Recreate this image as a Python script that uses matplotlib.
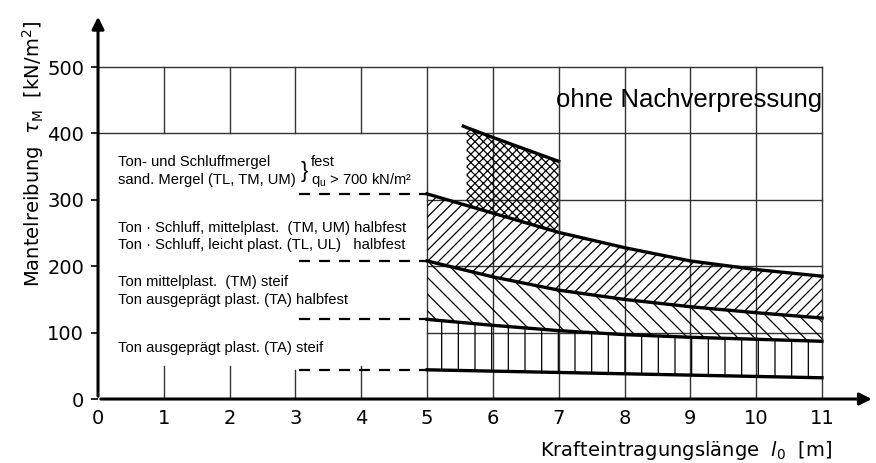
import matplotlib
matplotlib.use('Agg')
import matplotlib.pyplot as plt

plt.rcParams['hatch.linewidth'] = 0.9
plt.rcParams['font.family'] = ['Liberation Sans', 'DejaVu Sans']

# Krafteintragungslaenge l0 [m]
x_len = [5, 6, 7, 8, 9, 10, 11]
# Grenzkurven Mantelreibung [kN/m2]
tau_steif = [44, 42, 40, 38, 36, 34, 32]
tau_halbfest_ta = [120, 111, 103, 97, 93, 90, 87]
tau_halbfest_tl = [208, 184, 164, 150, 139, 130, 122]
tau_fest = [309, 280, 251, 228, 208, 195, 185]
# Bereich Ton-/Schluffmergel fest
x_mergel = [5.6, 6.0, 6.5, 7.0]
tau_mergel_top = [409, 394, 376, 358]
tau_mergel_bot = [292, 280, 265, 251]

x_ticks = [0, 1, 2, 3, 4, 5, 6, 7, 8, 9, 10, 11]
y_ticks = [0, 100, 200, 300, 400, 500]

labels = [
    (0.30, 357, 'Ton- und Schluffmergel'),
    (0.30, 330, 'sand. Mergel (TL, TM, UM)'),
    (0.30, 257, 'Ton · Schluff, mittelplast.  (TM, UM) halbfest'),
    (0.30, 232, 'Ton · Schluff, leicht plast. (TL, UL)   halbfest'),
    (0.30, 176, 'Ton mittelplast.  (TM) steif'),
    (0.30, 149, 'Ton ausgeprägt plast. (TA) halbfest'),
    (0.30, 77, 'Ton ausgeprägt plast. (TA) steif'),
]


def main():
    fig = plt.figure(figsize=(8.76, 4.63), dpi=100)
    ax = fig.add_axes([0.1119, 0.1382, 0.888, 0.8445])
    ax.set_xlim(0, 11.82)
    ax.set_ylim(0, 589)
    for s in ax.spines.values():
        s.set_visible(False)

    grid = dict(color='#333333', lw=1.0, zorder=1)
    # Raster oben (400 / 500) ueber die ganze Breite
    for yv in [400, 500]:
        ax.plot([0, 11], [yv, yv], **grid)
    for xv in range(1, 5):
        ax.plot([xv, xv], [400, 500], **grid)
    # Raster rechts
    for yv in [100, 200, 300]:
        ax.plot([5, 11], [yv, yv], **grid)
    for xv in range(5, 12):
        ax.plot([xv, xv], [0, 500], **grid)
    # kleine Striche unten links
    for xv in [1, 2, 4]:
        ax.plot([xv, xv], [0, 50], **grid)
    ax.plot([3, 3], [0, tau_steif[0]], **grid)

    # gestrichelte Verbindungen zu den Texten
    for yv in [tau_steif[0], tau_halbfest_ta[0], tau_halbfest_tl[0], tau_fest[0]]:
        ax.plot([3.05, 5], [yv, yv], color='k', lw=1.6, ls=(0, (5, 4)), zorder=2)

    # schraffierte Bereiche
    ax.fill_between(x_len, tau_steif, tau_halbfest_ta, facecolor='none',
                    edgecolor='k', hatch='|', lw=0, zorder=2)
    ax.fill_between(x_len, tau_halbfest_ta, tau_halbfest_tl, facecolor='none',
                    edgecolor='k', hatch='\\\\', lw=0, zorder=2)
    ax.fill_between(x_len, tau_halbfest_tl, tau_fest, facecolor='none',
                    edgecolor='k', hatch='///', lw=0, zorder=2)
    ax.fill_between(x_mergel, tau_mergel_bot, tau_mergel_top, facecolor='none',
                    edgecolor='k', hatch='xxxx', lw=0, zorder=2)

    for yy in [tau_steif, tau_halbfest_ta, tau_halbfest_tl, tau_fest]:
        ax.plot(x_len, yy, color='k', lw=2.4, zorder=3)
    ax.plot([5.55] + x_mergel, [411] + tau_mergel_top, color='k', lw=2.4, zorder=3)
    ax.plot([7, 7], [tau_mergel_bot[-1], tau_mergel_top[-1]], color='#333333', lw=1.0, zorder=3)

    # Achsen mit Pfeilen
    ax.annotate('', xy=(0, 580), xytext=(0, 0),
                arrowprops=dict(arrowstyle='-|>', lw=2.2, color='k', mutation_scale=18),
                annotation_clip=False)
    ax.annotate('', xy=(11.8, 0), xytext=(0, 0),
                arrowprops=dict(arrowstyle='-|>', lw=2.2, color='k', mutation_scale=18),
                annotation_clip=False)

    ax.set_xticks(x_ticks)
    ax.set_xticklabels([str(v) for v in x_ticks], family=['DejaVu Sans'], fontsize=14)
    ax.set_yticks(y_ticks)
    ax.set_yticklabels([str(v) for v in y_ticks], family=['DejaVu Sans'], fontsize=14)
    ax.tick_params(axis='x', length=0, pad=7)
    ax.tick_params(axis='y', length=5, width=1.2, pad=5)

    ax.text(-0.98, 370, r'Mantelreibung  $\tau_\mathregular{M}$  [kN/m$^\mathregular{2}$]',
            rotation=90, ha='center', va='center', fontsize=14, family=['DejaVu Sans'])
    ax.text(11.15, -78, r'Krafteintragungslänge  $\mathit{l}_\mathregular{0}$  [m]',
            ha='right', va='center', fontsize=14, family=['DejaVu Sans'])

    ax.text(11.0, 450, 'ohne Nachverpressung', ha='right', va='center', fontsize=18.5)

    for lx, ly, txt in labels:
        ax.text(lx, ly, txt, ha='left', va='center', fontsize=10.6)
    ax.text(3.14, 343, '}', ha='center', va='center', fontsize=16)
    ax.text(3.24, 357, 'fest', ha='left', va='center', fontsize=10.6)
    ax.text(3.24, 330, r'q$_\mathregular{u}$ > 700 kN/m²', ha='left', va='center', fontsize=10.6)

    plt.savefig('out.png', dpi=100)


if __name__ == '__main__':
    main()
